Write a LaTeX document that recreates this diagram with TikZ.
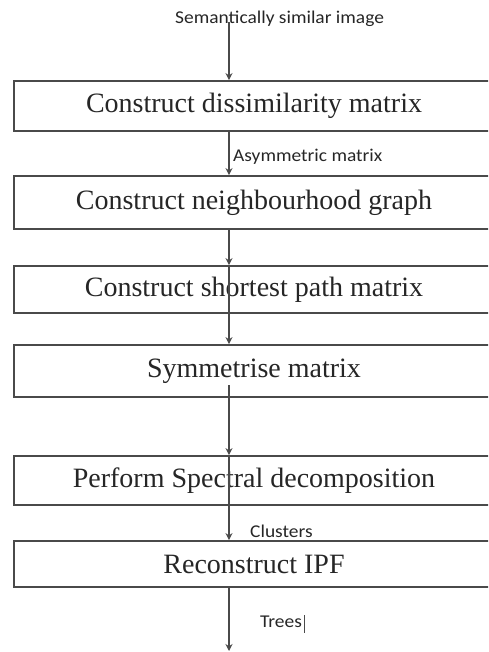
\documentclass[tikz,border=0pt]{standalone}
\usepackage{fontspec}
\setmainfont{Liberation Serif}
\newfontfamily\lblfont{Carlito}
\usetikzlibrary{arrows.meta}
\definecolor{boxline}{HTML}{4A4A4A}
\definecolor{txt}{HTML}{262626}
\tikzset{
  stepbox/.style={draw=boxline, line width=1.8pt, fill=white, minimum width=480pt, inner sep=0pt,
    text=txt, font=\fontsize{28}{30}\selectfont},
  lbl/.style={anchor=base west, inner sep=0pt, text=txt, font=\lblfont\fontsize{18}{20}\selectfont},
  conn/.style={draw=boxline, line width=1.3pt},
  arr/.style={conn, -{Stealth[length=7pt,width=7pt]}}
}
\begin{document}
\begin{tikzpicture}[x=1pt,y=-1pt]
\useasboundingbox (0,0) rectangle (488,652);
\begin{scope}
\clip (0,0) rectangle (488,652);
\node[stepbox, minimum height=50pt] (b1) at (254,106) {Construct dissimilarity matrix};
\node[stepbox, minimum height=53pt] (b2) at (254,202.5) {Construct neighbourhood graph};
\node[stepbox, minimum height=47pt] (b3) at (254,289.5) {Construct shortest path matrix};
\node[stepbox, minimum height=52pt] (b4) at (254,371) {Symmetrise matrix};
\node[stepbox, minimum height=49pt] (b5) at (254,480.5) {Perform Spectral decomposition};
\node[stepbox, minimum height=46pt] (b6) at (254,564) {Reconstruct IPF};
\end{scope}
\coordinate (ax) at (229,0);
\coordinate (top) at (229,22);
\coordinate (b4in) at (229,385);
\coordinate (bot) at (229,651);
\node[lbl] (l1) at (175,24) {\scalebox{1.08}[1]{Semantically similar image}};
\node[lbl] (l2) at (233,162) {\scalebox{1.08}[1]{Asymmetric matrix}};
\node[lbl] (l3) at (250,537) {\scalebox{1.08}[1]{Clusters}};
\node[lbl] (l4) at (260,627) {\scalebox{1.08}[1]{Trees}};
\draw[conn, line width=1.6pt] (l4.base east) ++(2.5,-12) -- ++(0,18);
\draw[arr] (top) -- (b1.north -| ax);
\draw[arr] (b1.south -| ax) -- (b2.north -| ax);
\draw[arr] (b2.south -| ax) -- (b3.north -| ax);
\draw[arr] (b3.north -| ax) -- (b4.north -| ax);
\draw[arr] (b4in) -- (b5.north -| ax);
\draw[arr] (b5.north -| ax) -- (b6.north -| ax);
\draw[arr] (b6.south -| ax) -- (bot);
\end{tikzpicture}
\end{document}
